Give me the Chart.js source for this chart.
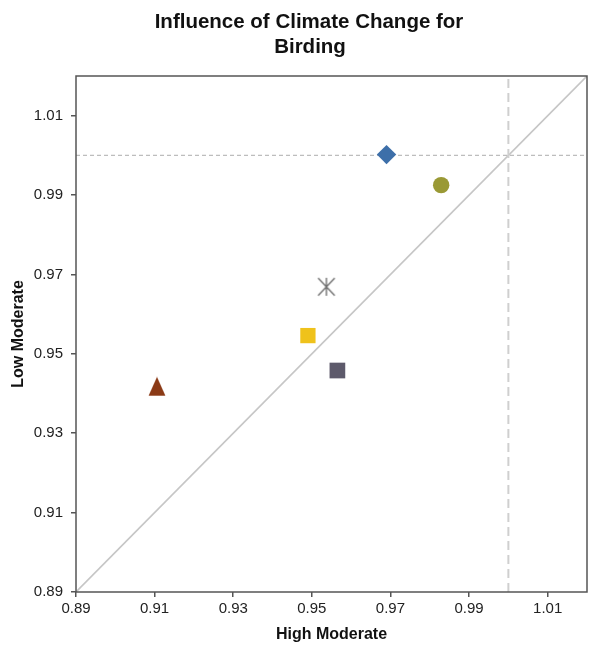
<!DOCTYPE html>
<html>
<head>
<meta charset="utf-8">
<script src="https://cdn.jsdelivr.net/npm/chart.js@4"></script>
<style>
html,body{margin:0;padding:0;background:#fff;overflow:hidden;}
#wrap{width:589px;height:647px;position:relative;}
canvas{display:block;}
</style>
</head>
<body>
<div id="wrap"><canvas id="c" width="589" height="647"></canvas></div>
<script>
// ---- data ----
const titleLines = ["Influence of Climate Change for", "Birding"];
const xAxisTitle = "High Moderate";
const yAxisTitle = "Low Moderate";
const pointNames = ["A", "B", "C", "D", "E", "F"];
const xValues = [0.969, 0.9829, 0.9537, 0.949, 0.9565, 0.9106];
const yValues = [1.0002, 0.9925, 0.9669, 0.9546, 0.9458, 0.9418];
const xTickValues = [0.89, 0.91, 0.93, 0.95, 0.97, 0.99, 1.01];
const yTickValues = [0.89, 0.91, 0.93, 0.95, 0.97, 0.99, 1.01];
const xTickLabels = ["0.89", "0.91", "0.93", "0.95", "0.97", "0.99", "1.01"];
const yTickLabels = ["0.89", "0.91", "0.93", "0.95", "0.97", "0.99", "1.01"];
const axisMin = 0.89;
const axisMax = 1.02;
const refValue = 1.0;

// ---- styles ----
const pointColors = ["#3d6fa9", "#9a9935", "#707070", "#efc21b", "#5d5a6b", "#8b3a16"];

function makeStar(color) {
  const c = document.createElement('canvas');
  c.width = 20; c.height = 20;
  const g = c.getContext('2d');
  g.strokeStyle = color; g.lineWidth = 1.4; g.lineCap = 'butt';
  g.beginPath();
  g.moveTo(10, 1); g.lineTo(10, 19);
  g.moveTo(1.7, 1.3); g.lineTo(18.3, 18.7);
  g.moveTo(18.3, 1.3); g.lineTo(1.7, 18.7);
  g.stroke();
  return c;
}
function makeTriangle(color) {
  const c = document.createElement('canvas');
  c.width = 18; c.height = 20;
  const g = c.getContext('2d');
  g.fillStyle = color;
  g.beginPath();
  g.moveTo(9, 0.5); g.lineTo(17.5, 19.5); g.lineTo(0.5, 19.5); g.closePath();
  g.fill();
  return c;
}
const pointStyles = ['rectRot', 'circle', makeStar(pointColors[2]), 'rect', 'rect', makeTriangle(pointColors[5])];
const pointRadii = [9.7, 8.2, 10, 10.8, 11.1, 10];

const pointDatasets = pointNames.map((n, i) => ({
  label: n,
  type: 'scatter',
  data: [{x: xValues[i], y: yValues[i]}],
  pointStyle: pointStyles[i],
  pointRadius: pointRadii[i],
  pointHoverRadius: pointRadii[i],
  backgroundColor: pointColors[i],
  borderColor: pointColors[i],
  pointBorderWidth: 0,
  order: 0
}));

const lineDatasets = [
  { label: 'diag', type: 'line', data: [{x: axisMin, y: axisMin}, {x: axisMax, y: axisMax}],
    borderColor: '#c6c6c6', borderWidth: 1.6, pointRadius: 0, fill: false, order: 3 },
  { label: 'vref', type: 'line', data: [{x: refValue, y: axisMin}, {x: refValue, y: axisMax}],
    borderColor: '#cfcfcf', borderWidth: 2, borderDash: [9, 5], pointRadius: 0, fill: false, order: 2 },
  { label: 'href', type: 'line', data: [{x: axisMin, y: refValue}, {x: axisMax, y: refValue}],
    borderColor: '#bdbdbd', borderWidth: 1.3, borderDash: [4, 3], pointRadius: 0, fill: false, order: 1 }
];

const titlePlugin = {
  id: 'mainTitle',
  afterDraw(chart) {
    const ctx = chart.ctx;
    ctx.save();
    ctx.fillStyle = '#111';
    ctx.font = 'bold 20.5px "Liberation Sans", Arial, sans-serif';
    ctx.textAlign = 'center';
    ctx.textBaseline = 'alphabetic';
    ctx.fillText(titleLines[0], 309, 28);
    ctx.fillText(titleLines[1], 310, 53);
    ctx.restore();
  }
};
const framePlugin = {
  id: 'frame',
  afterDatasetsDraw(chart) {
    const a = chart.chartArea, ctx = chart.ctx;
    ctx.save();
    ctx.strokeStyle = '#555';
    ctx.lineWidth = 1.5;
    ctx.strokeRect(a.left, a.top, a.right - a.left, a.bottom - a.top);
    ctx.restore();
  }
};

const tickFont = {family: '"Liberation Sans", Arial, sans-serif', size: 15};
const titleFont = {family: '"Liberation Sans", Arial, sans-serif', size: 16, weight: 'bold'};

new Chart(document.getElementById('c'), {
  data: { datasets: [...pointDatasets, ...lineDatasets] },
  options: {
    responsive: false,
    animation: false,
    devicePixelRatio: 1,
    layout: { autoPadding: false, padding: { left: 0, right: 2, top: 76, bottom: 0 } },
    plugins: { legend: { display: false }, title: { display: false }, tooltip: { enabled: false } },
    scales: {
      x: {
        type: 'linear', min: axisMin, max: axisMax,
        border: { display: false },
        grid: { display: true, drawOnChartArea: false, drawTicks: true, tickLength: 5, color: '#555', lineWidth: 1.5 },
        afterBuildTicks: s => { s.ticks = xTickValues.map(v => ({value: v})); },
        afterFit: s => { s.height = 55; s.paddingLeft = 0; s.paddingRight = 0; },
        ticks: { font: tickFont, color: '#222', padding: 3, maxRotation: 0, autoSkip: false,
          callback: (v, i) => xTickLabels[i] },
        title: { display: true, text: xAxisTitle, font: titleFont, color: '#111', padding: {top: 0, bottom: 3} }
      },
      y: {
        type: 'linear', min: axisMin, max: axisMax,
        border: { display: false },
        grid: { display: true, drawOnChartArea: false, drawTicks: true, tickLength: 5, color: '#555', lineWidth: 1.5 },
        afterBuildTicks: s => { s.ticks = yTickValues.map(v => ({value: v})); },
        afterFit: s => { s.width = 76; s.paddingTop = 0; s.paddingBottom = 0; },
        ticks: { font: tickFont, color: '#222', padding: 8, autoSkip: false,
          callback: (v, i) => yTickLabels[i] },
        title: { display: true, text: yAxisTitle, font: titleFont, color: '#111', padding: {top: 9, bottom: 0} }
      }
    }
  },
  plugins: [titlePlugin, framePlugin]
});
</script>
</body>
</html>
